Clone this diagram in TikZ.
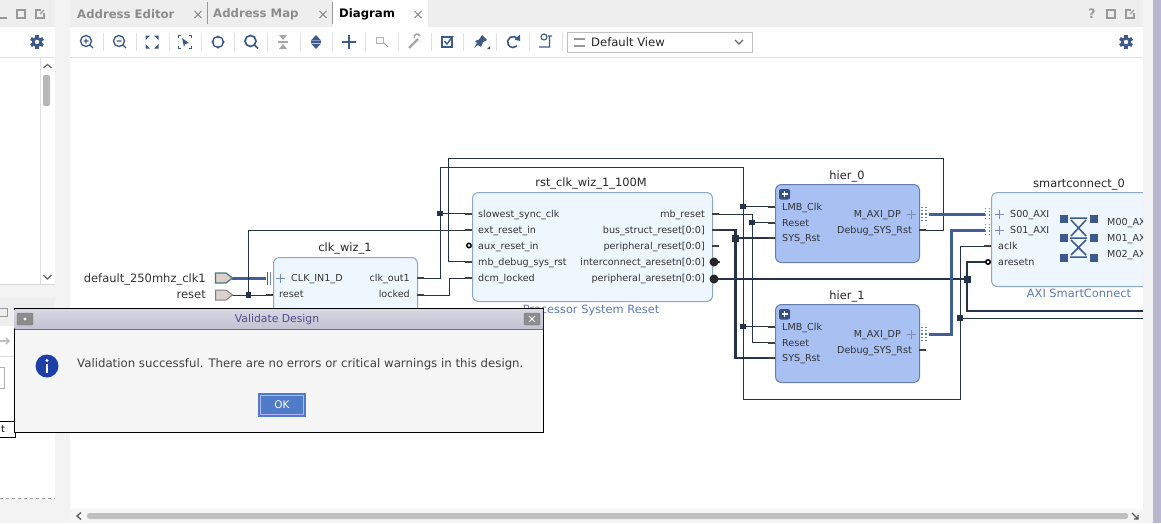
\documentclass[tikz,border=0pt]{standalone}
\usepackage{fontspec}
\setmainfont{DejaVu Sans}
\usetikzlibrary{arrows.meta}
\definecolor{wirecol}{HTML}{26324A}
\definecolor{buscol}{HTML}{3F5F98}
\definecolor{iconcol}{HTML}{3C5A8E}
\definecolor{ipfill}{HTML}{EEF6FE}
\definecolor{ipline}{HTML}{8CA6CC}
\definecolor{hierfill}{HTML}{A9C0F3}
\definecolor{hierline}{HTML}{6380AC}
\definecolor{chrome}{HTML}{EEEEEE}
\definecolor{captioncol}{HTML}{5E7BB2}
\definecolor{portfill}{HTML}{DDD0CA}
\definecolor{edgecol}{HTML}{B8B8CC}
\definecolor{infocol}{HTML}{1F3FA8}
\definecolor{okcol}{HTML}{4F7BC9}
\tikzset{
  ipblock/.style={draw=ipline,fill=ipfill,line width=1pt,rounded corners=6pt,anchor=north west,inner sep=0pt},
  hierblock/.style={draw=hierline,fill=hierfill,line width=1pt,rounded corners=6pt,anchor=north west,inner sep=0pt,minimum width=144pt,minimum height=78pt},
  blocktitle/.style={font=\fontsize{11.4}{11.4}\selectfont,text=black!85,inner sep=0pt,text height=8pt,text depth=0pt},
  portleft/.style={font=\fontsize{9.6}{9.6}\selectfont,text=black!80,inner sep=0pt,anchor=west,text height=7pt,text depth=0pt},
  portright/.style={portleft,anchor=east},
  wire/.style={draw=wirecol,line width=1pt},
  thickwire/.style={draw=wirecol,line width=2.2pt},
  buswire/.style={draw=buscol,line width=3pt},
  stub/.style={draw=black!75,line width=2pt},
  junction/.style={fill=wirecol,minimum size=5.5pt,inner sep=0pt},
  bigjunction/.style={junction,minimum size=7pt},
  icon/.style={draw=iconcol,line width=1.4pt},
  greyicon/.style={draw=black!35,line width=1.4pt},
  tabtext/.style={font=\fontsize{11.7}{11.7}\selectfont\bfseries,text=black!45,inner sep=0pt,anchor=west},
  gear/.pic={
    \fill[iconcol] (0,0) circle (5.2pt);
    \foreach \a in {0,60,...,300} \fill[iconcol,rotate=\a] (-1.7,-7) rectangle (1.7,0);
    \fill[white] (0,0) circle (2.2pt);
  }
}
\begin{document}
\begin{tikzpicture}[x=1pt,y=-1pt]
  \fill[white] (0,0) rectangle (1161,523);
  \useasboundingbox (0,0) rectangle (1161,523);
  % window frame
  \fill[chrome!70] (55,0) rectangle (70,523);
  \fill[chrome] (70,0) rectangle (1143,27);
  \fill[chrome] (0,0) rectangle (55,27);
  \fill[white] (333,0) rectangle (428,27);
  \draw[black!12,line width=1.5pt] (70,57.5) -- (1143,57.5) (0,57.5) -- (55,57.5);
  \node[tabtext] (tabAddr) at (77,14) {Address Editor};
  \node[tabtext] (tabMap) at (213,14) {Address Map};
  \node[tabtext,text=black] (tabDiagram) at (339,14) {Diagram};
  \draw[black!40,thin] (207,2) -- (207,24) (332,2) -- (332,24);
  \foreach \x in {198,323,418} {
    \draw[black!50,line width=1pt] (\x-3.5,11) -- (\x+3.5,18) (\x-3.5,18) -- (\x+3.5,11);
  }
  % window buttons
  \foreach \x in {21,1111} \draw[black!40,line width=1.2pt] (\x-4,10) rectangle (\x+4,18);
  \foreach \x in {40,1130} {
    \draw[black!40,line width=1.2pt] (\x+1,10) -- (\x-4,10) -- (\x-4,18) -- (\x+4,18) -- (\x+4,13);
    \draw[black!40,line width=1.2pt] (\x,14) -- (\x+4,10);
  }
  \draw[black!40,line width=1.2pt] (0,18) -- (7,18);
  \node[font=\fontsize{13}{13}\selectfont\bfseries,text=black!40,inner sep=0pt] (helpMark) at (1092,14) {?};
  \pic at (37,42) {gear};
  \pic at (1126,42) {gear};
  % toolbar
  \foreach \x in {103,136,169,201,234,267,300,332,365,398,431,463,496,529,562} {
    \draw[black!12] (\x,33) -- (\x,51);
  }
  \draw[icon] (86,41) circle (5.5pt) (90,45) -- (93,48) (83.5,41) -- (88.5,41) (86,38.5) -- (86,43.5);
  \draw[icon] (119,41) circle (5.5pt) (123,45) -- (126,48) (116.5,41) -- (121.5,41);
  \foreach \sx/\sy in {1/1,1/-1,-1/1,-1/-1} {
    \fill[iconcol,shift={(152,42)},xscale=\sx,yscale=\sy] (6.5,6.5) -- (2,6.5) -- (6.5,2) -- cycle;
    \draw[icon,shift={(185,42)},xscale=\sx,yscale=\sy,line width=1pt] (4,6.5) -- (6.5,6.5) -- (6.5,4);
  }
  \fill[iconcol] (182,38) -- (189,43) -- (185,44) -- (184,47) -- cycle;
  \draw[icon] (218,42) circle (5.5pt) (218,35.5) -- (218,38) (218,46) -- (218,48.5) (211.5,42) -- (214,42) (222,42) -- (224.5,42);
  \draw[icon,line width=1.7pt] (250.5,41) circle (5.5pt) (254.5,45) -- (258,48.5);
  \draw[greyicon] (278,42) -- (288,42);
  \fill[black!35] (279,35) -- (287,35) -- (283,40) -- cycle (279,49) -- (287,49) -- (283,44) -- cycle;
  \draw[icon] (311,42) -- (321,42);
  \fill[iconcol] (311,40.5) -- (321,40.5) -- (316,35) -- cycle (311,43.5) -- (321,43.5) -- (316,49) -- cycle;
  \draw[icon,line width=2.2pt] (342,42) -- (356,42) (349,35) -- (349,49);
  \draw[black!30,line width=.8pt] (376,37) rectangle (383,43);
  \draw[black!40,line width=1pt] (384,43) -- (388,47);
  \draw[black!35,line width=2.4pt] (409,48) -- (418,39);
  \draw[black!35,line width=1.6pt] (420,36) arc (20:200:3pt);
  \draw[icon] (442,37) rectangle (452,47);
  \draw[icon] (444.5,41) -- (447,44) -- (453,36);
  \fill[iconcol] (482,35) -- (487,40) -- (483,42) -- (481,47) -- (478,45) -- (474,48) -- (477,43) -- (475,41) -- (479,39.5) -- cycle;
  \fill[black!70] (490,49) -- (490,46) -- (487,49) -- cycle;
  \draw[icon,line width=1.6pt] (517.8,39.25) arc (30:315:5.5pt);
  \fill[iconcol] (520,34.5) -- (520,41) -- (514.5,39.5) -- cycle;
  \draw[icon,line width=1.1pt] (544,37) circle (3pt) (548,36) -- (552,36) (549.5,36) -- (549.5,47) (539,47) -- (550,47);
  % view selector
  \node[draw=black!25,fill=white,minimum width=185pt,minimum height=20pt,inner sep=0pt,anchor=west] (viewBox) at (567,42) {};
  \draw[black!40,line width=2pt] (574,38.5) -- (585,38.5) (574,45.5) -- (585,45.5);
  \node[font=\fontsize{11.6}{11.6}\selectfont,text=black!85,inner sep=0pt,anchor=west] (viewText) at (591,42) {Default View};
  \draw[black!60,line width=1.2pt] (735,40) -- (739,44) -- (743,40);
  % left panel, top and bottom
  \fill[chrome!70] (0,285) rectangle (55,298);
  \draw[black!12] (40.5,58) -- (40.5,284);
  \draw[black!15,line width=1pt] (0,284.5) -- (55,284.5);
  \fill[black!28,rounded corners=2pt] (43,75) rectangle (50,106);
  \draw[black!60,line width=1.2pt] (43.5,68) -- (47.5,64.5) -- (51.5,68) (43.5,275) -- (47.5,279) -- (51.5,275);
  \fill[chrome] (0,298) rectangle (55,326);
  \draw[black!40,line width=1pt] (-2,308) rectangle (7,316);
  \draw[black!25,line width=1.6pt] (0,341) -- (9,341) (6,338) -- (9,341) -- (6,344);
  \draw[black!12] (0,356.5) -- (55,356.5);
  \draw[black!30] (-1,367) rectangle (4,388);
  \draw[black!40,dashed] (0,498) -- (55,498);
  \fill[chrome!70] (0,498.5) rectangle (55,523);
  \node[draw=black,fill=white,inner sep=0pt,minimum height=16pt,minimum width=20pt,anchor=east] (tipBox) at (15,429) {};
  \node[font=\fontsize{9.6}{9.6}\selectfont,inner sep=0pt] (tipText) at (3,429) {t};
  % bottom scroll bar
  \fill[chrome!60] (70,509) rectangle (1143,523);
  \fill[black!25,rounded corners=2.5pt] (87,513) rectangle (1128,519);
  \draw[black!65,line width=1.3pt] (81,512.5) -- (77,516) -- (81,519.5);
  \draw[black!65,line width=1.3pt] (1132,513) -- (1138,519) (1138,515) -- (1138,519) -- (1134,519);
  % ports and junctions
  \foreach \n/\x/\y in {
    extClk/232/278, extRst/232/295, jExtRst/248.5/295,
    wizClkIn/266/278, wizRst/273/295, wizClkOut/417/278, wizLocked/417/295,
    rstSync/472/213.5, rstExt/472/230, rstAux/472/245.5, rstDbg/472/261.5, rstDcm/472/278,
    rstMb/712/214, rstBus/712/230, rstPeriph/712/246, rstInter/712/262, rstAresetn/712/279,
    hierAClk/775/206.5, hierARst/775/222.5, hierASys/775/238, hierAAxi/929/214, hierADbg/919/230,
    hierBClk/775/326.5, hierBRst/775/342.5, hierBSys/775/358, hierBAxi/929/334, hierBDbg/919/350,
    scSA/985/214, scSB/985/230, scClk/991/246, scRst/986/262,
    jClkSync/440/213.5, jClkHierA/743/206.5, jClkHierB/743/326.5, jClkOut/960/318,
    jMbHierA/752/222.5, jBusHierA/735.5/238, jAresetn/967/279,
    cClkTop/440/167, cClkRight/743/167, cClkLow/743/399, cClkEnd/960/399,
    cDbgLeft/448/158, cDbgRight/943/158, cLockMid/449/295,
    cMbRight/752/214, cBusRight/735.5/230, cAxiUp/951.5/334,
    outClk/1143/318, outRst/1143/311, cRstOut/967/311, cRstIn/967/262%
  } {
    \coordinate (\n) at (\x,\y);
  }
  % wires
  \draw[buswire] (extClk) -- (wizClkIn);
  \draw[wire] (extRst) -- (wizRst);
  \draw[wire] (jExtRst) |- (rstExt);
  \draw[wire] (wizClkOut) -| (cClkTop) -- (cClkRight) -- (cClkLow) -- (cClkEnd) |- (scClk);
  \draw[wire] (jClkSync) -- (rstSync);
  \draw[wire] (jClkHierA) -- (hierAClk);
  \draw[wire] (jClkHierB) -- (hierBClk);
  \draw[wire] (jClkOut) -- (outClk);
  \draw[wire] (hierADbg) -| (cDbgRight) -- (cDbgLeft) |- (rstDbg);
  \draw[wire] (wizLocked) -- (cLockMid) |- (rstDcm);
  \draw[wire] (rstMb) -- (cMbRight) |- (hierBRst);
  \draw[wire] (jMbHierA) -- (hierARst);
  \draw[thickwire] (rstBus) -- (cBusRight) |- (hierBSys);
  \draw[thickwire] (jBusHierA) -- (hierASys);
  \draw[thickwire] (rstAresetn) -- (jAresetn);
  \draw[thickwire] (scRst) -| (cRstOut) -- (outRst);
  \draw[buswire] (hierAAxi) -- (scSA);
  \draw[buswire] (hierBAxi) -- (cAxiUp) |- (scSB);
  % blocks
  \node[ipblock,minimum width=144pt,minimum height=70pt] (wiz) at (273,257) {};
  \node[ipblock,minimum width=240pt,minimum height=109pt] (rst) at (472,192) {};
  \node[hierblock] (hierA) at (775,184) {};
  \node[hierblock] (hierB) at (775,304) {};
  \node[ipblock,minimum width=190pt,minimum height=94pt] (sc) at (991,192) {};
  \node[blocktitle] (wizTitle) at (345,247) {clk\_wiz\_1};
  \node[blocktitle] (rstTitle) at (591,182) {rst\_clk\_wiz\_1\_100M};
  \node[blocktitle] (hierATitle) at (847,175) {hier\_0};
  \node[blocktitle] (hierBTitle) at (847,295) {hier\_1};
  \node[blocktitle] (scTitle) at (1079,183) {smartconnect\_0};
  \node[blocktitle,text=captioncol] (rstCaption) at (591,309) {Processor System Reset};
  \node[blocktitle,text=captioncol] (scCaption) at (1079,293) {AXI SmartConnect};
  \node[portright,font=\fontsize{11.5}{11.5}\selectfont] (extClkName) at (206,279) {default\_250mhz\_clk1};
  \node[portright,font=\fontsize{11.5}{11.5}\selectfont] (extRstName) at (206,295) {reset};
  % external ports
  \draw[draw=black!50!teal!70!white,fill=portfill,line width=1.3pt] (215.5,273) -- (226,273) -- (232.5,278) -- (226,283) -- (215.5,283) -- cycle;
  \draw[draw=black!50,fill=portfill,line width=1pt] (215.5,290) -- (226,290) -- (232.5,295) -- (226,300) -- (215.5,300) -- cycle;
  \node[junction] (dotExtRst) at (jExtRst) {};
  % stubs
  \foreach \p in {wizRst,rstSync,rstExt,rstDbg,rstDcm,hierAClk,hierARst,hierASys,hierBClk,hierBRst,hierBSys} {
    \draw[stub] (\p) -- ++(-7,0);
  }
  \foreach \p in {wizClkOut,wizLocked,rstMb,rstBus,rstPeriph,hierADbg,hierBDbg} {
    \draw[stub] (\p) -- ++(7,0);
  }
  \draw[stub] (scClk) -- ++(-7,0);
  \draw[buscol,line width=1.5pt] (267.5,272) -- (267.5,285);
  \draw[buscol!70,line width=1.5pt] (270.5,272) -- (270.5,285);
  % inverted pins
  \draw[black,line width=1.5pt,fill=white] (469,245.5) circle (2.2pt);
  \draw[stub] (rstAux) -- ++(-1,0);
  \draw[black,line width=1.5pt,fill=white] (988,262) circle (2.2pt);
  \draw[stub] (rstInter) -- ++(8,0);
  \draw[stub] (rstAresetn) -- ++(8,0);
  \fill[black!85] (714,262) circle (4.5pt) (714,279) circle (4.5pt);
  % bus pins
  \foreach \y in {214,334} {
    \draw[buscol!80,line width=1.2pt,dotted] (922,\y-7) -- (922,\y+8) (926,\y-7) -- (926,\y+8);
    \draw[buscol!70] (906.5,\y) -- (915.5,\y) (911,\y-4.5) -- (911,\y+4.5);
  }
  \foreach \y in {214,230} {
    \draw[buscol!80,line width=1.2pt,dotted] (985.5,\y-6) -- (985.5,\y+6) (989.5,\y-6) -- (989.5,\y+6);
    \draw[buscol!70] (994.5,\y) -- (1003.5,\y) (999,\y-4.5) -- (999,\y+4.5);
  }
  \draw[buscol!70] (275.5,278) -- (284.5,278) (280,273.5) -- (280,282.5);
  % junctions
  \foreach \p in {jClkSync,jClkHierA,jClkHierB,jClkOut,jMbHierA} \node[junction] (dot\p) at (\p) {};
  \foreach \p in {jBusHierA,jAresetn} \node[bigjunction] (dot\p) at (\p) {};
  % pin names
  \foreach \n/\x/\y/\s in {wizIn/291/278/CLK\_IN1\_D,wizR/279/294/reset,
    rA/478/213.5/slowest\_sync\_clk,rB/478/230/ext\_reset\_in,rC/478/245.5/aux\_reset\_in,rD/478/261.5/mb\_debug\_sys\_rst,rE/478/277.5/dcm\_locked,
    hA/782/206.5/LMB\_Clk,hB/782/222.5/Reset,hC/782/238/SYS\_Rst,
    hD/782/326.5/LMB\_Clk,hE/782/342.5/Reset,hF/782/358/SYS\_Rst,
    sA/1010/214/S00\_AXI,sB/1010/230/S01\_AXI,sC/998/246/aclk,sD/998/262/aresetn,
    sE/1107/222/M00\_AXI,sF/1107/238/M01\_AXI,sG/1107/254/M02\_AXI} {
    \node[portleft] (name\n) at (\x,\y) {\s};
  }
  \foreach \n/\x/\y/\s in {wizC/410/278/clk\_out1,wizL/410/294/locked,
    rF/705/213.5/mb\_reset,rG/705/230/bus\_struct\_reset[0:0],rH/705/245.5/peripheral\_reset[0:0],rI/705/261.5/interconnect\_aresetn[0:0],rJ/705/277.5/peripheral\_aresetn[0:0],
    hG/901/214/M\_AXI\_DP,hH/912/230/Debug\_SYS\_Rst,hI/901/334/M\_AXI\_DP,hJ/912/350/Debug\_SYS\_Rst} {
    \node[portright] (name\n) at (\x,\y) {\s};
  }
  % expand buttons
  \foreach \y in {194,314} {
    \fill[iconcol!90!black,rounded corners=2pt] (779,\y-5) rectangle (790,\y+5.5);
    \draw[white,line width=1.6pt] (781.5,\y) -- (787.5,\y) (784.5,\y-3) -- (784.5,\y+3);
  }
  % switch symbol
  \foreach \x in {1064,1094} {
    \foreach \y in {218.5,238,257.5} \fill[iconcol] (\x-4,\y-4) rectangle (\x+4,\y+4);
  }
  \draw[iconcol,line width=1.5pt] (1070,218) -- (1087,218) (1070,238) -- (1087,238) (1070,257) -- (1087,257)
    (1071,220) -- (1086,236) (1086,220) -- (1071,236) (1071,240) -- (1086,255) (1086,240) -- (1071,255);
  % right edge
  \fill[chrome!70] (1143,0) rectangle (1153,523);
  \fill[edgecol] (1153,0) rectangle (1161,523);
  % message box
  \node[draw=black,fill=black!4,line width=1pt,minimum width=529pt,minimum height=124pt,inner sep=0pt,anchor=north west] (msgBox) at (14,308) {};
  \shade[top color=edgecol!55,bottom color=edgecol!85] (14.5,309) rectangle (543,328);
  \draw[black!55,line width=1pt] (14.5,329) -- (543,329);
  \node[font=\fontsize{10.8}{10.8}\selectfont,text=blue!35!black!70,inner sep=0pt,text height=8pt,text depth=0pt] (msgTitle) at (277,318) {Validate Design};
  \foreach \x in {25,532} {
    \node[draw=black!50,fill=black!45,rounded corners=1pt,minimum width=16pt,minimum height=12pt,inner sep=0pt] (btn\x) at (\x,319) {};
  }
  \draw[white,line width=1pt] (529,316) -- (535,322) (529,322) -- (535,316);
  \draw[white,line width=.7pt] (25,319) circle (1.2pt);
  \fill[infocol] (47,366) circle (11.5pt);
  \fill[white] (47,360.5) circle (1.6pt);
  \draw[white,line width=2.4pt] (47,364) -- (47,373);
  \node[font=\fontsize{11.75}{11.75}\selectfont,text=black!75,inner sep=0pt,anchor=west] (msgText) at (77,364) {Validation successful. There are no errors or critical warnings in this design.};
  \node[draw=okcol,fill=okcol,line width=1pt,minimum width=47pt,minimum height=23pt,inner sep=0pt,font=\fontsize{10.5}{10.5}\selectfont,text=white,anchor=north west] (okBtn) at (258,393) {OK};
  \draw[white!70!blue] (260,395) rectangle (303,414);
\end{tikzpicture}
\end{document}
